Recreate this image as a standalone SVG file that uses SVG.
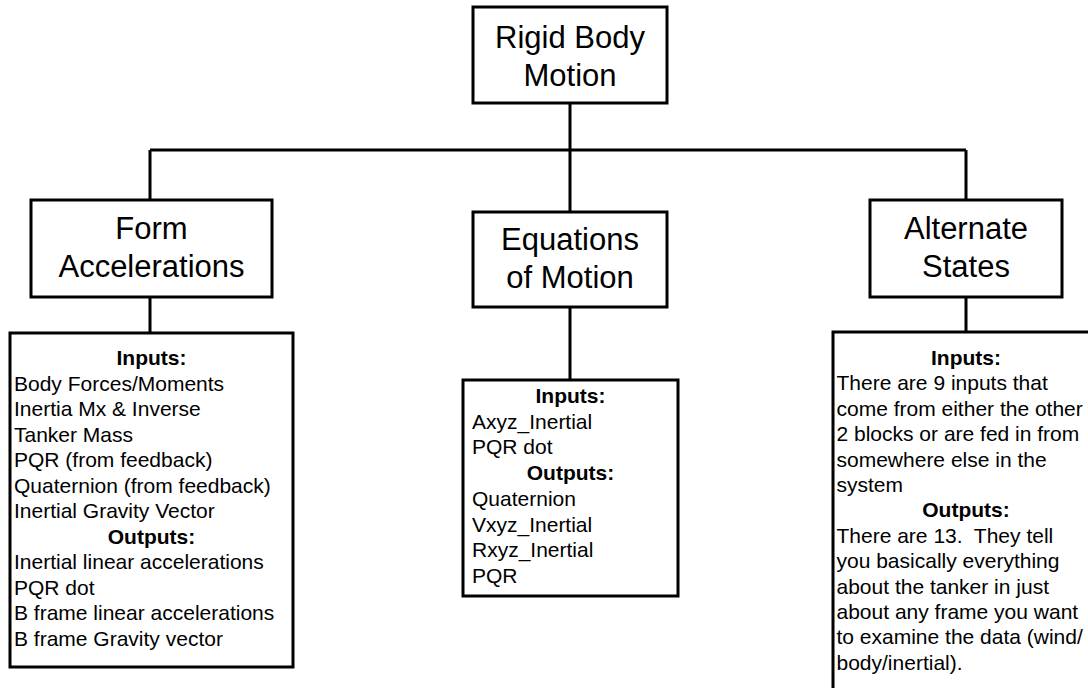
<svg xmlns="http://www.w3.org/2000/svg" width="1088" height="688" viewBox="0 0 1088 688">
<style>
.box{fill:#fff;stroke:#000;stroke-width:3;stroke-linejoin:miter}
.conn{fill:none;stroke:#000;stroke-width:3;stroke-linecap:butt}
.t{font-family:"Liberation Sans",Arial,sans-serif;font-size:31px;fill:#000;text-anchor:middle}
.d{font-family:"Liberation Sans",Arial,sans-serif;font-size:21px;fill:#000}
.h{font-weight:bold;text-anchor:middle}
</style>
<rect width="1088" height="688" fill="#fff"/>
<g id="connectors">
<path class="conn" d="M570 103V150M150 150H966M150 150V200M570 150V212M966 150V200M150 297V333M570 307V380M966 297V332"/>
</g>
<g id="rigid-body-motion">
<rect class="box" x="473" y="7" width="194" height="96"/>
<text class="t" x="570" y="47.5">Rigid Body</text>
<text class="t" x="570" y="85.5">Motion</text>
</g>
<g id="form-accelerations">
<rect class="box" x="31" y="200" width="241" height="97"/>
<text class="t" x="151.5" y="238.5">Form</text>
<text class="t" x="151.5" y="277">Accelerations</text>
</g>
<g id="equations-of-motion">
<rect class="box" x="473" y="212" width="194" height="95"/>
<text class="t" x="570" y="250">Equations</text>
<text class="t" x="570" y="288">of Motion</text>
</g>
<g id="alternate-states">
<rect class="box" x="870" y="200" width="192" height="97"/>
<text class="t" x="966" y="238.5">Alternate</text>
<text class="t" x="966" y="276.5">States</text>
</g>
<g id="form-accelerations-details">
<rect class="box" x="10" y="333" width="283" height="334"/>
<text class="d h" x="151.5" y="365">Inputs:</text>
<text class="d" x="14" y="390.5">Body Forces/Moments</text>
<text class="d" x="14" y="416">Inertia Mx &amp; Inverse</text>
<text class="d" x="14" y="441.5">Tanker Mass</text>
<text class="d" x="14" y="467">PQR (from feedback)</text>
<text class="d" x="14" y="492.5">Quaternion (from feedback)</text>
<text class="d" x="14" y="518">Inertial Gravity Vector</text>
<text class="d h" x="151.5" y="543.5">Outputs:</text>
<text class="d" x="14" y="569">Inertial linear accelerations</text>
<text class="d" x="14" y="594.5">PQR dot</text>
<text class="d" x="14" y="620">B frame linear accelerations</text>
<text class="d" x="14" y="645.5">B frame Gravity vector</text>
</g>
<g id="equations-of-motion-details">
<rect class="box" x="463" y="380" width="215" height="216"/>
<text class="d h" x="570.5" y="403">Inputs:</text>
<text class="d" x="472" y="428.7">Axyz_Inertial</text>
<text class="d" x="472" y="454.4">PQR dot</text>
<text class="d h" x="570.5" y="480.1">Outputs:</text>
<text class="d" x="472" y="505.8">Quaternion</text>
<text class="d" x="472" y="531.5">Vxyz_Inertial</text>
<text class="d" x="472" y="557.2">Rxyz_Inertial</text>
<text class="d" x="472" y="583">PQR</text>
</g>
<g id="alternate-states-details">
<rect class="box" x="833" y="332" width="270" height="380"/>
<text class="d h" x="966" y="365">Inputs:</text>
<text class="d" x="836.5" y="390.4">There are 9 inputs that</text>
<text class="d" x="836.5" y="415.8">come from either the other</text>
<text class="d" x="836.5" y="441.2">2 blocks or are fed in from</text>
<text class="d" x="836.5" y="466.6">somewhere else in the</text>
<text class="d" x="836.5" y="492">system</text>
<text class="d h" x="966" y="517.4">Outputs:</text>
<text class="d" x="836.5" y="542.8" xml:space="preserve">There are 13.  They tell</text>
<text class="d" x="836.5" y="568.2">you basically everything</text>
<text class="d" x="836.5" y="593.6">about the tanker in just</text>
<text class="d" x="836.5" y="619">about any frame you want</text>
<text class="d" x="836.5" y="644.4">to examine the data (wind/</text>
<text class="d" x="836.5" y="669.8">body/inertial).</text>
</g>
</svg>
